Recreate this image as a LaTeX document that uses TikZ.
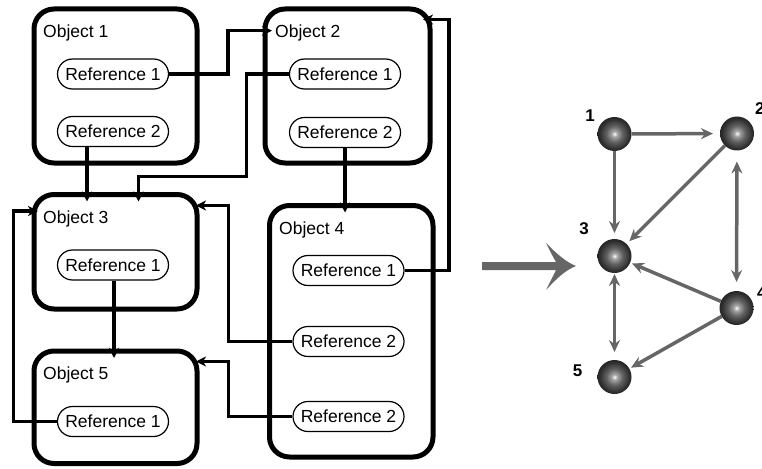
\documentclass[tikz,border=0pt]{standalone}
\usepackage{fontspec}
\setmainfont{Liberation Sans}
\usetikzlibrary{arrows.meta,calc}

\definecolor{arrowgray}{HTML}{666666}
% sphere look for the graph vertices
\pgfdeclareradialshading{sphere}{\pgfpoint{0bp}{0bp}}{%
  color(0bp)=(white); color(4bp)=(black!35); color(12bp)=(black!62);
  color(22bp)=(black!82); color(34bp)=(black!94); color(50bp)=(black)}

\tikzset{
  objbox/.style={draw, line width=5pt, rounded corners=20pt, inner sep=0pt, outer sep=0pt},
  objlabel/.style={anchor=base west, inner sep=0pt, font=\fontsize{17.5}{21}\selectfont},
  refoval/.style={draw, line width=1.2pt, fill=white, rounded corners=15pt,
    minimum width=111pt, minimum height=30pt, inner sep=0pt,
    font=\fontsize{17.5}{21}\selectfont},
  link/.style={line width=3.3pt, -{Stealth[length=10pt,width=10pt,inset=3pt]},
    shorten >=-7pt},
  ball/.style={circle, minimum size=34pt, inner sep=0pt, outer sep=0pt, shading=sphere},
  gedge/.style={line width=3.5pt, draw=arrowgray, -{Stealth[length=12pt,width=11pt,inset=4pt]},
    shorten >=4pt},
  gboth/.style={line width=3.5pt, draw=arrowgray,
    {Stealth[length=12pt,width=11pt,inset=4pt]}-{Stealth[length=12pt,width=11pt,inset=4pt]}},
  numlabel/.style={inner sep=0pt, font=\bfseries\fontsize{17}{19}\selectfont}
}

\begin{document}
\begin{tikzpicture}[x=1pt,y=-1pt]
\useasboundingbox (0,0) rectangle (762,468);
\clip (0,0) rectangle (762,468);

% ---- objects ----
\node[objbox, minimum width=163pt, minimum height=154pt]   (o1) at (115.5,86) {};
\node[objbox, minimum width=165pt, minimum height=154pt]   (o2) at (347.5,86) {};
\node[objbox, minimum width=163pt, minimum height=114.5pt] (o3) at (115.5,251.75) {};
\node[objbox, minimum width=163.5pt, minimum height=251.5pt] (o4) at (351.25,331.25) {};
\node[objbox, minimum width=163pt, minimum height=112.5pt] (o5) at (115.5,407.25) {};

\node[objlabel] (t1) at (43,38)  {Object 1};
\node[objlabel] (t2) at (275,38) {Object 2};
\node[objlabel] (t3) at (43,223) {Object 3};
\node[objlabel] (t4) at (279,234) {Object 4};
\node[objlabel] (t5) at (43,379) {Object 5};

% ---- references ----
\node[refoval] (r11) at (113,74)     {Reference 1};
\node[refoval] (r12) at (113,131.5)  {Reference 2};
\node[refoval] (r21) at (345,74)     {Reference 1};
\node[refoval] (r22) at (345,132.5)  {Reference 2};
\node[refoval] (r31) at (113,265)    {Reference 1};
\node[refoval] (r41) at (348.5,270.5) {Reference 1};
\node[refoval] (r42) at (348.5,341.5) {Reference 2};
\node[refoval] (r43) at (348.5,416.5) {Reference 2};
\node[refoval] (r51) at (113,421.5)  {Reference 1};

% ---- bend points of the reference links ----
\coordinate (k1) at (228,30.7);
\coordinate (k2a) at (246.5,176.5);
\coordinate (k2b) at (138.5,176.5);
\coordinate (k3) at (87,170);
\coordinate (k5) at (449,19.5);
\coordinate (o2c) at ($(o2.north east)+(-7,10.5)$);
\coordinate (k6) at (228.5,205.5);
\coordinate (k7) at (228.5,361.5);
\coordinate (k8) at (114,320);
\coordinate (k9) at (13.5,211);

\draw[link] (r11.east) -| (k1) -- (k1 -| o2.west);
\draw[link] (r21.west) -| (k2a) -- (k2b) -- (k2b |- o3.north);
\draw[link] (k3 |- r12.south) -- (k3 |- o3.north);
\draw[link] (r22.south) -- (r22.south |- o4.north);
\draw[link, shorten >=0pt] (r41.east) -| (k5) -- (o2c);
\draw[link, shorten >=-1pt] (r42.west) -| (k6) -- (k6 -| o3.east);
\draw[link, shorten >=-1pt] (r43.west) -| (k7) -- (k7 -| o5.east);
\draw[link] (k8 |- r31.south) -- (k8 |- o5.north);
\draw[link, shorten >=-4pt] (r51.west) -| (k9) -- (k9 -| o3.west);

% ---- transition arrow ----
\fill[arrowgray] (482,262) -- (556,262) .. controls (552,255) .. (546,243)
  .. controls (558,255) and (566,262) .. (576,266)
  .. controls (566,270) and (558,277) .. (546,290)
  .. controls (552,278) .. (556,270) -- (482,270) -- cycle;

% ---- graph ----
\node[ball] (n1) at (614.5,134) {};
\node[ball] (n2) at (737,133.5) {};
\node[ball] (n3) at (614.5,256) {};
\node[ball] (n4) at (736.5,308) {};
\node[ball] (n5) at (614.5,377) {};

\node[numlabel] (l1) at (590,116) {1};
\node[numlabel, anchor=west] (l2) at (755,109) {2};
\node[numlabel] (l3) at (584,228.5) {3};
\node[numlabel, anchor=west] (l4) at (757,293) {4};
\node[numlabel] (l5) at (577.5,371) {5};

\draw[gedge, shorten >=7pt] (n1) -- (n2);
\draw[gedge, shorten >=6pt] (n1) -- (n3);
\draw[gedge, shorten >=4pt] (n2) -- (n3);
\draw[gedge, shorten >=2pt] (n4) -- (n3);
\draw[gedge, shorten >=2pt] (n4) -- (n5);
\draw[gboth, shorten <=11pt, shorten >=9pt] (n2) -- (n4);
\draw[gboth, shorten <=1pt, shorten >=8pt] (n3) -- (n5);
\end{tikzpicture}
\end{document}
